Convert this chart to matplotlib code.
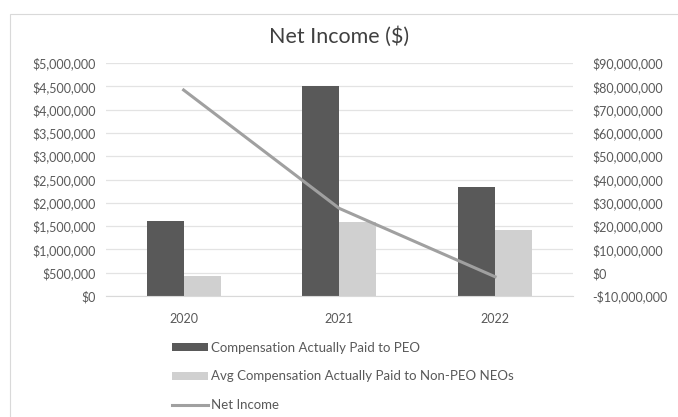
import matplotlib.pyplot as plt
from matplotlib.patches import Rectangle
from matplotlib.ticker import FuncFormatter

plt.rcParams['font.family'] = ['Lato', 'DejaVu Sans']

years = ["2020", "2021", "2022"]
peo_cap = [1600000, 4510000, 2330000]
neo_cap = [430000, 1580000, 1420000]
net_income = [78400000, 27600000, -1700000]

dark = "#595959"
light = "#d0d0d0"
line_col = "#a0a0a0"
text_col = "#595959"


def money(v, pos=None):
    if v < 0:
        return "-${:,.0f}".format(-v)
    return "${:,.0f}".format(v)


fig = plt.figure(figsize=(6.78, 4.17), dpi=100)
fig.patches.append(Rectangle((10 / 678, -0.05), 1.1, 1 - 14 / 417 + 0.05,
                             transform=fig.transFigure, fill=False,
                             edgecolor="#d9d9d9", linewidth=0.8))

ax = fig.add_axes([0.156, 0.290, 0.689, 0.559])
ax2 = ax.twinx()

x = list(range(len(years)))
w = 0.237
ax.bar([i - w / 2 for i in x], peo_cap, width=w, color=dark,
       label="Compensation Actually Paid to PEO", zorder=2)
ax.bar([i + w / 2 for i in x], neo_cap, width=w, color=light,
       label="Avg Compensation Actually Paid to Non-PEO NEOs", zorder=2)
ax2.plot(x, net_income, color=line_col, linewidth=2.2, label="Net Income")

ax.set_xlim(-0.5, 2.5)
ax.set_ylim(0, 5000000)
ax.set_yticks(range(0, 5000001, 500000))
ax2.set_ylim(-10000000, 90000000)
ax2.set_yticks(range(-10000000, 90000001, 10000000))
ax.yaxis.set_major_formatter(FuncFormatter(money))
ax2.yaxis.set_major_formatter(FuncFormatter(money))
ax.set_xticks(x)
ax.set_xticklabels(years)

ax.grid(axis="y", color="#e3e3e3", linewidth=0.9, zorder=0)
ax.set_axisbelow(True)
for a in (ax, ax2):
    for s in a.spines.values():
        s.set_visible(False)
    a.tick_params(length=0, labelsize=9, colors=text_col)
ax.tick_params(axis="y", pad=7)
ax.tick_params(axis="x", pad=12)
ax2.tick_params(axis="y", pad=14)
ax.spines["bottom"].set_visible(True)
ax.spines["bottom"].set_color("#d9d9d9")

fig.text(0.5, 0.912, "Net Income ($)", ha="center", va="center",
         fontsize=15.5, color="#404040")

h1, l1 = ax.get_legend_handles_labels()
h2, l2 = ax2.get_legend_handles_labels()
fig.legend(h1 + h2, l1 + l2, loc="upper left", bbox_to_anchor=(0.254, 0.180),
           frameon=False, fontsize=9.5, labelcolor=text_col, handlelength=2.7,
           handleheight=0.6, handletextpad=0.25, labelspacing=1.25,
           borderaxespad=0, borderpad=0)

fig.savefig("out.png", dpi=100)
